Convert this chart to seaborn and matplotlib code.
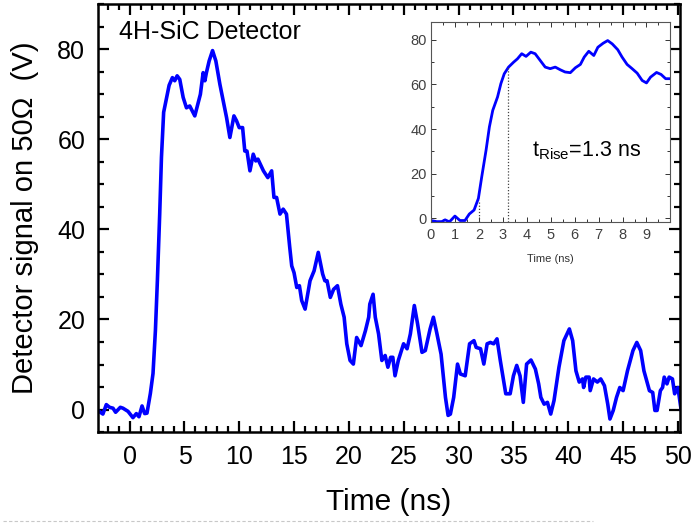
import numpy as np
import pandas as pd
import matplotlib
matplotlib.use("Agg")
import matplotlib.pyplot as plt
from matplotlib.lines import Line2D
from matplotlib.ticker import MultipleLocator
import seaborn as sns

# main trace: time (ns) vs detector signal (V)
main_time = [-2.9, -2.44, -2.13, -1.83, -1.52, -1.28, -0.85, -0.61, -0.15, 0.30,
             0.61, 0.85, 1.13, 1.37, 1.58, 1.89, 2.13, 2.35, 2.53, 2.74,
             2.9, 3.1, 3.35, 3.6, 3.9, 4.11, 4.33, 4.57, 4.88, 5.18,
             5.48, 5.94, 6.25, 6.45, 6.70, 6.86, 7.0, 7.25, 7.56, 7.86,
             8.23, 8.53, 8.84, 9.14, 9.51, 9.75, 9.99, 10.3, 10.5, 10.7,
             10.97, 11.27, 11.5, 11.7, 12.2, 12.6, 12.95, 13.16, 13.4, 13.71,
             14.0, 14.3, 14.6, 14.78, 14.99, 15.24, 15.48, 15.69, 16.0, 16.45,
             16.82, 17.2, 17.6, 17.8, 18.0, 18.3, 18.6, 18.95, 19.26, 19.56,
             19.8, 20.1, 20.4, 20.7, 21.1, 21.5, 21.8, 21.9, 22.2, 22.4,
             22.7, 23.0, 23.3, 23.55, 23.8, 24.0, 24.2, 24.5, 24.98, 25.3,
             25.6, 25.96, 26.26, 26.66, 26.96, 27.4, 27.7, 28.0, 28.4, 28.8,
             29.04, 29.25, 29.55, 29.9, 30.16, 30.6, 31.0, 31.4, 31.6, 32.0,
             32.3, 32.6, 32.9, 33.2, 33.5, 33.8, 34.3, 34.7, 35.0, 35.3,
             35.6, 35.9, 36.2, 36.6, 37.0, 37.3, 37.5, 37.8, 38.1, 38.4,
             38.7, 39.15, 39.6, 40.1, 40.4, 40.7, 41.0, 41.3, 41.4, 41.6,
             41.9, 42.0, 42.3, 42.65, 42.96, 43.3, 43.6, 43.8, 44.1, 44.4,
             44.7, 45.0, 45.4, 45.9, 46.25, 46.6, 46.9, 47.4, 47.7, 47.9,
             48.1, 48.4, 48.6, 48.75, 49.0, 49.2, 49.5, 49.7, 50.0, 50.3]
main_signal = [-0.2, -1.0, 1.1, 0.5, 0.3, -0.6, 0.5, 0.3, -0.4, -1.8,
               -0.9, -1.6, 0.8, -0.9, -0.8, 3.6, 8.0, 17.6, 28.7, 43.4,
               56.0, 66.0, 69.0, 72.0, 73.7, 73.0, 74.1, 73.3, 69.3, 67.0,
               67.4, 65.2, 68.1, 70.0, 74.8, 73.0, 74.8, 77.4, 79.7, 77.4,
               72.2, 68.5, 64.8, 60.4, 65.2, 64.1, 62.6, 62.6, 57.4, 57.4,
               53.0, 56.7, 55.2, 55.6, 53.0, 51.5, 53.0, 47.1, 47.1, 43.4,
               44.5, 43.4, 36.0, 31.9, 30.4, 27.1, 27.5, 24.2, 22.3, 28.6,
               30.8, 34.9, 30.1, 28.6, 28.6, 24.9, 26.7, 27.5, 23.4, 20.5,
               14.6, 10.9, 10.1, 16.0, 14.2, 17.5, 20.5, 23.4, 25.6, 20.5,
               16.8, 10.9, 12.0, 9.4, 11.6, 11.6, 7.5, 10.9, 14.6, 13.5,
               16.8, 23.1, 19.0, 12.7, 13.1, 17.9, 20.5, 17.1, 12.3, 2.7,
               -1.3, -1.0, 2.7, 10.1, 7.9, 7.5, 14.6, 15.3, 13.8, 13.5,
               10.1, 14.6, 14.9, 14.6, 15.7, 10.9, 3.5, 3.5, 7.5, 9.8,
               7.5, 1.6, 10.1, 11.0, 9.0, 5.7, 2.7, 1.2, 1.6, -1.0,
               2.0, 9.4, 15.3, 17.9, 15.3, 8.6, 6.1, 6.8, 4.9, 7.2,
               7.2, 4.2, 6.8, 6.1, 6.8, 5.3, 1.2, -2.1, -0.2, 2.7,
               4.9, 4.2, 8.6, 13.1, 14.9, 13.1, 8.6, 4.2, 3.8, -0.2,
               -0.2, 4.2, 4.9, 7.2, 5.7, 7.2, 6.8, 3.5, 4.9, -0.2]

# inset: zoom on the rising edge
inset_time = [0.0, 0.24, 0.45, 0.59, 0.77, 1.0, 1.21, 1.42, 1.6, 1.8,
              1.98, 2.12, 2.3, 2.44, 2.58, 2.78, 2.92, 3.06, 3.24, 3.45,
              3.61, 3.79, 3.97, 4.17, 4.35, 4.56, 4.77, 4.98, 5.19, 5.4,
              5.6, 5.82, 6.03, 6.24, 6.4, 6.59, 6.8, 6.97, 7.19, 7.38,
              7.57, 7.8, 7.98, 8.19, 8.4, 8.61, 8.82, 9.0, 9.17, 9.42,
              9.61, 9.8, 10.0]
inset_signal = [-1.0, -1.5, -1.5, -0.7, -1.6, 1.0, -1.0, -1.0, 1.9, 3.7,
                8.9, 18.6, 30.5, 41.0, 48.4, 54.4, 60.4, 64.8, 67.8, 70.0,
                71.5, 73.8, 72.6, 74.5, 73.8, 70.8, 67.8, 67.1, 67.8, 66.6,
                65.6, 65.3, 67.5, 69.0, 72.3, 74.9, 73.0, 76.7, 78.5, 79.7,
                78.2, 75.6, 72.3, 69.0, 67.1, 65.1, 61.8, 60.7, 63.3, 65.4,
                64.5, 62.6, 62.6]

# 10% / 90% markers of the rise time
rise_marks = [2.0, 3.2]
rise_levels = [8.0, 68.0]

main_df = pd.DataFrame({"time": main_time, "signal": main_signal})
inset_df = pd.DataFrame({"time": inset_time, "signal": inset_signal})

sns.set_style("ticks")
plt.rcParams["font.family"] = ["Liberation Sans", "DejaVu Sans"]
plt.rcParams["mathtext.default"] = "regular"
plt.rcParams["text.color"] = "black"
plt.rcParams["axes.labelcolor"] = "black"
plt.rcParams["xtick.color"] = "black"
plt.rcParams["ytick.color"] = "black"

fig = plt.figure(figsize=(6.94, 5.25), dpi=100)
ax = fig.add_axes([0.141, 0.177, 0.839, 0.815])

sns.lineplot(data=main_df, x="time", y="signal", ax=ax, color="#0000ff",
             linewidth=2.6, sort=False)

ax.set_xlim(-2.9, 50.2)
ax.set_ylim(-5, 90)
ax.xaxis.set_major_locator(MultipleLocator(5))
ax.xaxis.set_minor_locator(MultipleLocator(1))
ax.yaxis.set_major_locator(MultipleLocator(20))
ax.yaxis.set_minor_locator(MultipleLocator(5))
ax.tick_params(which="both", direction="in", top=True, right=True,
               color="black", width=1.6)
ax.tick_params(which="major", length=8, labelsize=18, pad=9)
ax.tick_params(which="minor", length=4.5)
ax.tick_params(axis="x", which="major", pad=9)
for sp in ax.spines.values():
    sp.set_linewidth(1.8)
    sp.set_color("black")

ax.set_xlabel("Time (ns)", fontsize=21.5, labelpad=14)
ax.set_ylabel("Detector signal on 50\u03a9  (V)", fontsize=21, labelpad=13)
ax.text(-1.0, 82.3, "4H-SiC Detector", fontsize=18, va="baseline")

# inset
axin = fig.add_axes([0.621, 0.577, 0.344, 0.381])
sns.lineplot(data=inset_df, x="time", y="signal", ax=axin, color="#0000ff",
             linewidth=2.0, sort=False)
axin.vlines(rise_marks, -1.7, rise_levels, colors="#444444",
            linestyles=(0, (1, 1.5)), linewidth=0.9)
axin.set_xlim(0, 9.97)
axin.set_ylim(-1.7, 88)
axin.xaxis.set_major_locator(MultipleLocator(1))
axin.xaxis.set_minor_locator(MultipleLocator(0.5))
axin.yaxis.set_major_locator(MultipleLocator(20))
axin.yaxis.set_minor_locator(MultipleLocator(10))
axin.tick_params(which="both", direction="in", top=True, right=True,
                 color="#333333", width=0.7, labelcolor="#404040")
axin.tick_params(which="major", length=3.5, labelsize=10.5, pad=3)
axin.tick_params(which="minor", length=2)
axin.tick_params(axis="x", which="major", pad=4)
for sp in axin.spines.values():
    sp.set_linewidth(0.8)
    sp.set_color("#555555")
axin.set_xlabel("Time (ns)", fontsize=8, color="#333333", labelpad=9)
axin.set_ylabel("")
axin.text(4.21, 27.6, "t$_{Rise}$=1.3 ns", fontsize=15.5, va="baseline")

# faint dashed rule along the bottom edge of the slide
fig.add_artist(Line2D([0.005, 0.855], [0.008, 0.008], color="#c8c8c8",
                      linestyle=(0, (3, 2)), linewidth=0.8))

fig.savefig("out.png", dpi=100)
